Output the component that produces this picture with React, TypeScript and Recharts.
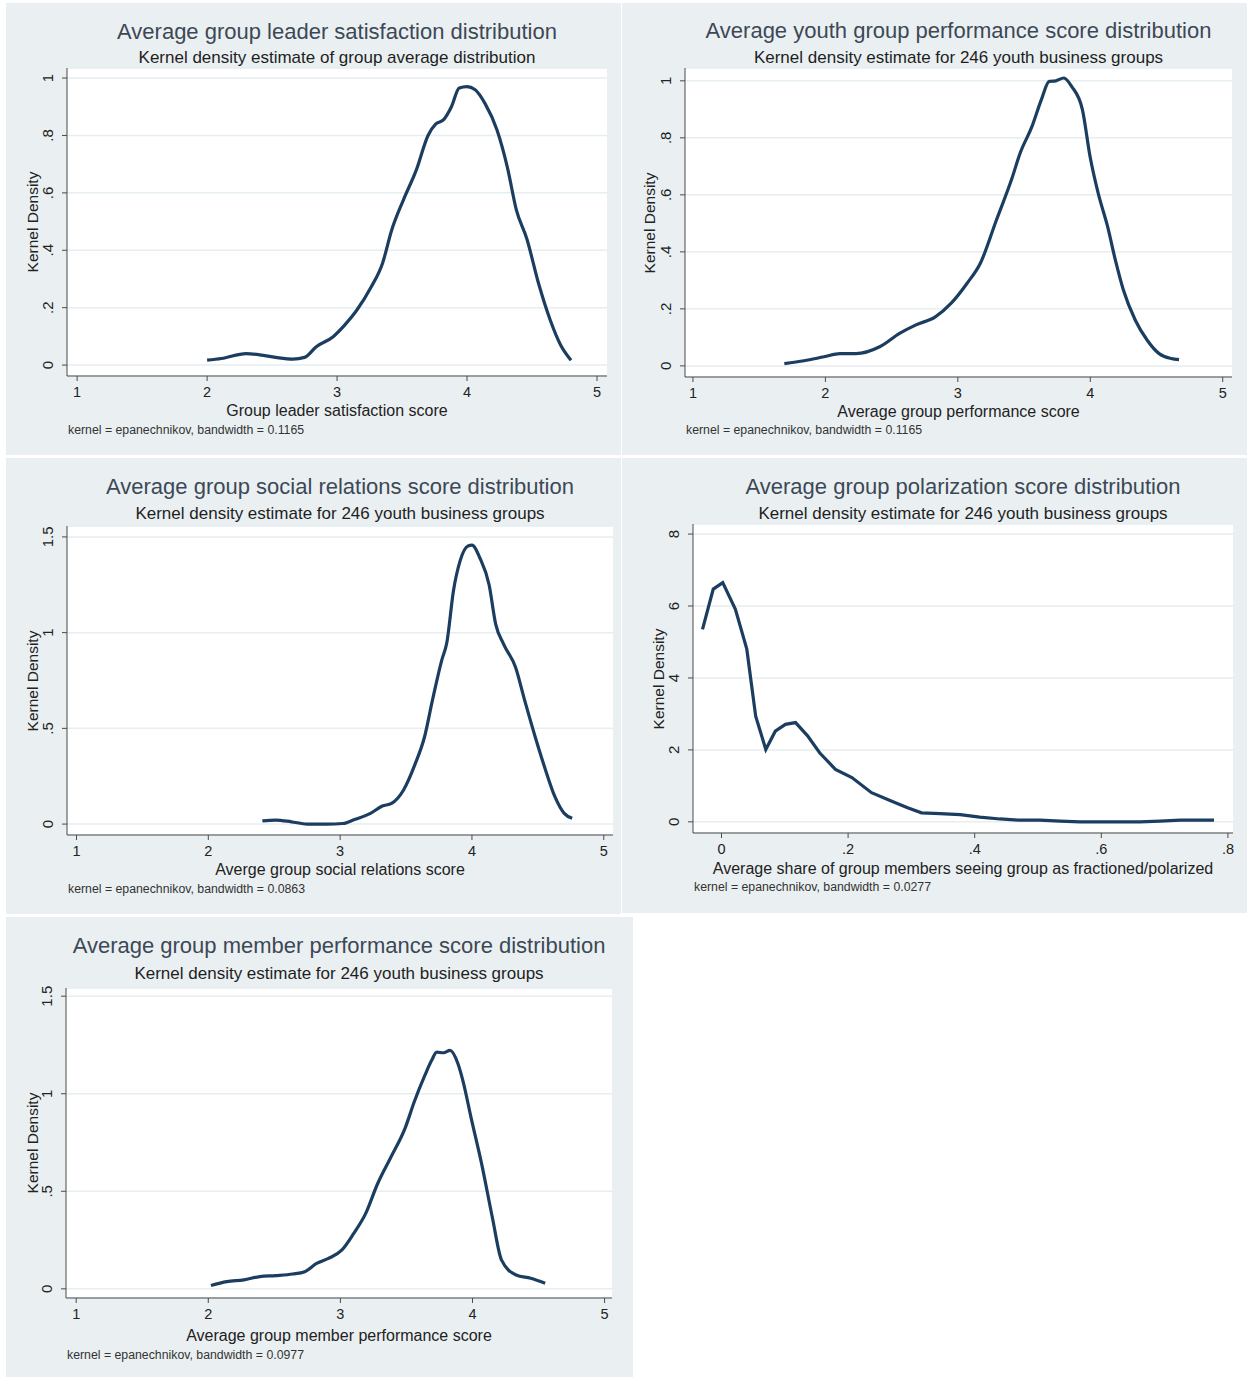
import React from "react";
import { LineChart, Line, XAxis, YAxis, CartesianGrid } from "recharts";

// --- data (x value, kernel density) ---
const leaderX = [2.0, 2.11, 2.3, 2.42, 2.54, 2.66, 2.75, 2.84, 2.97, 3.06, 3.15, 3.26, 3.35, 3.42, 3.51, 3.61, 3.7, 3.76, 3.82, 3.88, 3.94, 4.0, 4.06, 4.14, 4.23, 4.31, 4.38, 4.46, 4.55, 4.64, 4.72, 4.8];
const leaderY = [0.017, 0.023, 0.04, 0.035, 0.026, 0.021, 0.027, 0.064, 0.099, 0.14, 0.19, 0.27, 0.355, 0.47, 0.575, 0.68, 0.8, 0.84, 0.855, 0.9, 0.965, 0.97, 0.96, 0.91, 0.82, 0.69, 0.54, 0.44, 0.285, 0.157, 0.07, 0.017];

const youthX = [1.69, 1.84, 1.99, 2.11, 2.23, 2.41, 2.56, 2.68, 2.83, 2.95, 3.07, 3.17, 3.29, 3.41, 3.47, 3.56, 3.63, 3.69, 3.74, 3.8, 3.86, 3.94, 4.0, 4.06, 4.13, 4.19, 4.25, 4.34, 4.43, 4.52, 4.61, 4.67];
const youthY = [0.008, 0.018, 0.032, 0.043, 0.043, 0.067, 0.114, 0.143, 0.172, 0.22, 0.29, 0.36, 0.51, 0.66, 0.746, 0.84, 0.933, 0.998, 1.0, 1.01, 0.98, 0.9, 0.73, 0.605, 0.49, 0.37, 0.266, 0.16, 0.09, 0.043, 0.026, 0.022];

const socialX = [2.41, 2.51, 2.63, 2.75, 2.9, 3.02, 3.11, 3.23, 3.32, 3.39, 3.48, 3.57, 3.64, 3.7, 3.77, 3.81, 3.86, 3.91, 3.97, 4.0, 4.06, 4.13, 4.18, 4.24, 4.33, 4.4, 4.48, 4.55, 4.63, 4.7, 4.76];
const socialY = [0.017, 0.021, 0.012, 0.0, 0.0, 0.003, 0.024, 0.056, 0.094, 0.108, 0.177, 0.316, 0.455, 0.646, 0.854, 0.95, 1.22, 1.375, 1.453, 1.457, 1.39, 1.25, 1.045, 0.94, 0.82, 0.646, 0.455, 0.3, 0.142, 0.056, 0.03];

const polarX = [-0.03, -0.013, 0.002, 0.022, 0.04, 0.054, 0.07, 0.085, 0.101, 0.117, 0.136, 0.155, 0.18, 0.206, 0.237, 0.269, 0.294, 0.316, 0.345, 0.377, 0.408, 0.44, 0.47, 0.503, 0.535, 0.566, 0.598, 0.63, 0.661, 0.693, 0.725, 0.756, 0.778];
const polarY = [5.35, 6.47, 6.65, 5.91, 4.8, 2.94, 2.01, 2.52, 2.71, 2.76, 2.39, 1.92, 1.46, 1.23, 0.81, 0.575, 0.39, 0.25, 0.23, 0.2, 0.13, 0.08, 0.046, 0.046, 0.02, 0.0, 0.0, 0.0, 0.0, 0.02, 0.046, 0.046, 0.046];

const memberX = [2.02, 2.14, 2.27, 2.39, 2.51, 2.64, 2.73, 2.82, 2.91, 3.01, 3.1, 3.19, 3.28, 3.38, 3.49, 3.56, 3.64, 3.69, 3.73, 3.78, 3.83, 3.89, 3.93, 3.99, 4.07, 4.15, 4.22, 4.33, 4.44, 4.55];
const memberY = [0.017, 0.037, 0.046, 0.063, 0.068, 0.076, 0.088, 0.13, 0.156, 0.198, 0.283, 0.384, 0.536, 0.672, 0.824, 0.96, 1.095, 1.17, 1.213, 1.21, 1.222, 1.154, 1.06, 0.875, 0.638, 0.367, 0.147, 0.071, 0.054, 0.029];

const scoreTicks = [1, 2, 3, 4, 5];
const shareTicks = [0, 0.2, 0.4, 0.6, 0.8];
const densTicks1 = [0, 0.2, 0.4, 0.6, 0.8, 1];
const densTicks15 = [0, 0.5, 1, 1.5];
const densTicks8 = [0, 2, 4, 6, 8];

const FONT = '"Liberation Sans", Arial, Helvetica, sans-serif';
const LINE = "#1b3d60";
const BG = "#eaf0f2";
const X_AXIS_H = 30;
const Y_AXIS_W = 40;

// Stata style labels: .2 instead of 0.2
function fmt(v: number): string {
  const s = String(Math.round(v * 100) / 100);
  return s.replace(/^0\./, ".").replace(/^-0\./, "-.");
}

const panels = [
  {
    left: 6, top: 3, w: 615, h: 452,
    plot: { left: 61, right: 601, top: 65, bottom: 373 },
    title: "Average group leader satisfaction distribution",
    subtitle: "Kernel density estimate of group average distribution",
    xlabel: "Group leader satisfaction score",
    note: "kernel = epanechnikov, bandwidth = 0.1165",
    xs: leaderX, ys: leaderY,
    xDomain: [0.922, 5.077], xTicks: scoreTicks,
    yDomain: [-0.038, 1.035], yTicks: densTicks1,
    curve: "monotone",
    titleY: 29, subY: 54, xlabY: 408, noteY: 427, ylabX: 27,
  },
  {
    left: 622, top: 3, w: 625, h: 452,
    plot: { left: 63, right: 610, top: 65, bottom: 374 },
    title: "Average youth group performance score distribution",
    subtitle: "Kernel density estimate for 246 youth business groups",
    xlabel: "Average group performance score",
    note: "kernel = epanechnikov, bandwidth = 0.1165",
    xs: youthX, ys: youthY,
    xDomain: [0.94, 5.07], xTicks: scoreTicks,
    yDomain: [-0.039, 1.045], yTicks: densTicks1,
    curve: "monotone",
    titleY: 28, subY: 54, xlabY: 409, noteY: 427, ylabX: 28,
  },
  {
    left: 6, top: 458, w: 615, h: 456,
    plot: { left: 61, right: 607, top: 68, bottom: 377 },
    title: "Average group social relations score distribution",
    subtitle: "Kernel density estimate for 246 youth business groups",
    xlabel: "Averge group social relations score",
    note: "kernel = epanechnikov, bandwidth = 0.0863",
    xs: socialX, ys: socialY,
    xDomain: [0.928, 5.07], xTicks: scoreTicks,
    yDomain: [-0.057, 1.557], yTicks: densTicks15,
    curve: "monotone",
    titleY: 29, subY: 55, xlabY: 412, noteY: 431, ylabX: 27,
  },
  {
    left: 622, top: 458, w: 625, h: 455,
    plot: { left: 71, right: 611, top: 66, bottom: 375 },
    title: "Average group polarization score distribution",
    subtitle: "Kernel density estimate for 246 youth business groups",
    xlabel: "Average share of group members seeing group as fractioned/polarized",
    note: "kernel = epanechnikov, bandwidth = 0.0277",
    xs: polarX, ys: polarY,
    xDomain: [-0.045, 0.808], xTicks: shareTicks,
    yDomain: [-0.31, 8.28], yTicks: densTicks8,
    curve: "linear",
    titleY: 29, subY: 55, xlabY: 411, noteY: 429, ylabX: 37,
  },
  {
    left: 6, top: 917, w: 627, h: 460,
    plot: { left: 60, right: 606, top: 71, bottom: 381 },
    title: "Average group member performance score distribution",
    subtitle: "Kernel density estimate for 246 youth business groups",
    xlabel: "Average group member performance score",
    note: "kernel = epanechnikov, bandwidth = 0.0977",
    xs: memberX, ys: memberY,
    xDomain: [0.923, 5.056], xTicks: scoreTicks,
    yDomain: [-0.047, 1.542], yTicks: densTicks15,
    curve: "monotone",
    titleY: 29, subY: 56, xlabY: 419, noteY: 438, ylabX: 27,
  },
];

function XTick(props: any) {
  const { x, y, payload } = props;
  return (
    <text x={x} y={y} dy={14} textAnchor="middle" fontSize={14.5} fill="#222" fontFamily={FONT}>
      {fmt(payload.value)}
    </text>
  );
}

function YTick(props: any) {
  const { x, y, payload } = props;
  return (
    <text
      x={x}
      y={y}
      transform={`rotate(-90 ${x} ${y})`}
      textAnchor="middle"
      fontSize={15}
      fill="#222"
      fontFamily={FONT}
    >
      {fmt(payload.value)}
    </text>
  );
}

function Panel({ cfg }: { cfg: any }) {
  const data = cfg.xs.map((x: number, i: number) => ({ x, y: cfg.ys[i] }));
  const p = cfg.plot;
  const cx = (p.left + p.right) / 2;
  const margin = {
    top: p.top,
    right: cfg.w - p.right,
    bottom: cfg.h - p.bottom - X_AXIS_H,
    left: p.left - Y_AXIS_W,
  };
  const center: React.CSSProperties = {
    position: "absolute",
    transform: "translate(-50%, -50%)",
    whiteSpace: "nowrap",
    fontFamily: FONT,
    lineHeight: 1,
  };
  return (
    <div
      style={{
        position: "absolute",
        left: cfg.left,
        top: cfg.top,
        width: cfg.w,
        height: cfg.h,
        background: BG,
      }}
    >
      <LineChart width={cfg.w} height={cfg.h} data={data} margin={margin}>
        <CartesianGrid vertical={false} fill="#ffffff" stroke="#e6eef0" strokeWidth={1.5} />
        <XAxis
          type="number"
          dataKey="x"
          domain={cfg.xDomain}
          ticks={cfg.xTicks}
          interval={0}
          height={X_AXIS_H}
          tick={<XTick />}
          tickSize={5}
          tickMargin={2}
          stroke="#4a4a4a"
          allowDataOverflow
        />
        <YAxis
          type="number"
          dataKey="y"
          domain={cfg.yDomain}
          ticks={cfg.yTicks}
          interval={0}
          width={Y_AXIS_W}
          tick={<YTick />}
          tickSize={5}
          tickMargin={9}
          stroke="#4a4a4a"
          allowDataOverflow
        />
        <Line
          type={cfg.curve}
          dataKey="y"
          stroke={LINE}
          strokeWidth={3.2}
          dot={false}
          isAnimationActive={false}
        />
      </LineChart>
      <div style={{ ...center, left: cx, top: cfg.titleY, fontSize: 22, color: "#3d4856" }}>
        {cfg.title}
      </div>
      <div style={{ ...center, left: cx, top: cfg.subY, fontSize: 17, color: "#1e1e1e" }}>
        {cfg.subtitle}
      </div>
      <div style={{ ...center, left: cx, top: cfg.xlabY, fontSize: 16, color: "#222" }}>
        {cfg.xlabel}
      </div>
      <div
        style={{
          position: "absolute",
          left: p.left + 1,
          top: cfg.noteY,
          transform: "translateY(-50%)",
          fontSize: 12.3,
          lineHeight: 1,
          color: "#333",
          fontFamily: FONT,
          whiteSpace: "nowrap",
        }}
      >
        {cfg.note}
      </div>
      <div
        style={{
          ...center,
          left: cfg.ylabX,
          top: (p.top + p.bottom) / 2,
          transform: "translate(-50%, -50%) rotate(-90deg)",
          fontSize: 15.5,
          color: "#222",
        }}
      >
        Kernel Density
      </div>
    </div>
  );
}

export default function App() {
  return (
    <div
      style={{
        position: "absolute",
        left: 0,
        top: 0,
        width: 1247,
        height: 1377,
        background: "#ffffff",
        overflow: "hidden",
      }}
    >
      {panels.map((cfg, i) => (
        <Panel key={i} cfg={cfg} />
      ))}
    </div>
  );
}
